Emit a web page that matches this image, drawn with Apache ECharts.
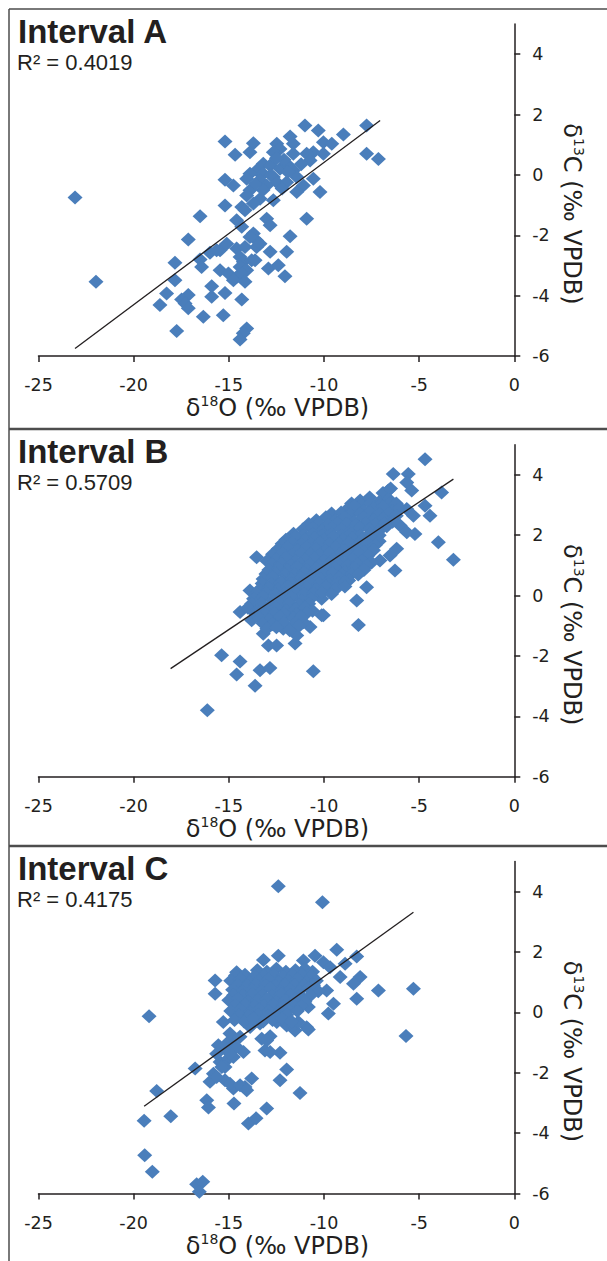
<!DOCTYPE html>
<html>
<head>
<meta charset="utf-8">
<script src="https://cdn.jsdelivr.net/npm/echarts@6/dist/echarts.min.js"></script>
<style>
html,body{margin:0;padding:0;background:#fff;}
#chart{width:607px;height:1261px;}
</style>
</head>
<body>
<div id="chart"></div>
<script>
// ---------- data ----------
const panelTitles = ['Interval A', 'Interval B', 'Interval C'];
const r2Labels = ['R\u00b2 = 0.4019', 'R\u00b2 = 0.5709', 'R\u00b2 = 0.4175'];
const xTicks = [-25, -20, -15, -10, -5, 0];
const yTicks = [-6, -4, -2, 0, 2, 4];
const xTitle = '{n|\u03b4}{s|18}{n|O (\u2030 VPDB)}';
const yTitle = '{n|\u03b4}{s|13}{n|C (\u2030 VPDB)}';

const intervalA = [
[-11.00,1.64],[-10.30,1.47],[-8.98,1.34],[-7.76,1.64],[-15.20,1.11],[-13.71,1.05],[-11.78,1.27],[-11.61,1.03],
[-12.48,1.03],[-12.31,0.86],[-10.03,1.08],[-9.59,1.03],[-10.56,0.75],[-10.91,0.70],[-13.89,0.75],[-14.67,0.67],
[-12.66,0.75],[-11.61,0.70],[-10.03,0.70],[-7.76,0.70],[-7.14,0.53],[-10.73,0.48],[-13.19,0.37],[-12.83,0.31],
[-13.54,0.15],[-13.19,0.04],[-12.31,0.20],[-11.96,0.37],[-11.61,0.15],[-13.89,0.04],[-14.06,-0.13],[-15.20,-0.16],
[-14.76,-0.35],[-13.36,-0.18],[-12.66,-0.07],[-12.48,-0.24],[-13.01,-0.35],[-11.96,-0.24],[-11.43,-0.07],[-11.08,-0.35],
[-11.43,-0.57],[-10.56,-0.13],[-10.21,-0.57],[-13.89,-0.51],[-14.06,-0.68],[-13.36,-0.79],[-12.66,-0.84],[-13.71,-0.95],
[-14.32,-1.06],[-14.15,-1.17],[-15.20,-1.01],[-23.08,-0.75],[-16.51,-1.37],[-14.59,-1.50],[-14.32,-1.72],[-13.01,-1.45],
[-12.83,-1.67],[-10.91,-1.45],[-17.13,-2.14],[-13.71,-1.94],[-13.54,-2.17],[-13.89,-2.06],[-11.78,-2.03],[-15.46,-2.50],
[-15.11,-2.28],[-14.59,-2.44],[-14.15,-2.39],[-13.54,-2.39],[-13.36,-2.28],[-14.41,-2.72],[-15.99,-2.58],[-15.64,-2.50],
[-12.83,-2.55],[-11.96,-2.55],[-16.51,-2.80],[-17.83,-2.91],[-16.43,-3.05],[-14.24,-2.88],[-13.80,-2.83],[-13.62,-2.83],
[-14.41,-3.05],[-14.06,-3.16],[-15.46,-3.16],[-15.02,-3.27],[-14.59,-3.38],[-14.32,-3.27],[-12.92,-3.10],[-12.40,-2.99],
[-12.05,-3.36],[-21.98,-3.54],[-17.83,-3.49],[-14.76,-3.49],[-14.15,-3.54],[-15.90,-3.69],[-18.27,-3.93],[-17.13,-3.98],
[-15.90,-4.04],[-15.20,-3.91],[-17.48,-4.13],[-17.30,-4.26],[-14.32,-4.13],[-18.62,-4.31],[-17.13,-4.42],[-16.34,-4.70],
[-15.29,-4.65],[-17.74,-5.17],[-14.06,-5.09],[-14.24,-5.25],[-14.41,-5.45],
[-12.10,0.50],[-11.90,0.10],[-12.80,0.00],[-13.20,-0.50],[-12.20,-0.45],[-11.20,0.35],[-12.50,0.55],[-13.60,-0.30]
];
const intervalB = [
[-4.69,4.52],[-6.36,4.03],[-5.57,4.03],[-5.65,3.75],[-5.39,3.48],[-6.62,3.48],[-3.82,3.42],[-4.69,2.98],[-4.43,2.65],
[-5.65,2.87],[-5.30,2.65],[-6.00,2.32],[-5.22,2.04],[-5.65,2.10],[-3.99,1.77],[-3.20,1.19],[-6.18,1.55],[-6.53,1.33],
[-6.27,0.83],[-7.06,1.16],[-7.76,0.28],[-8.28,-0.16],[-10.03,-0.65],[-8.19,-0.97],[-13.54,1.27],[-13.89,0.17],
[-14.41,-0.54],[-13.80,-0.82],[-13.19,-1.26],[-12.92,-1.65],[-12.49,-1.65],[-11.52,-1.59],[-11.43,-1.32],[-10.73,-1.04],
[-11.08,-0.88],[-10.12,-0.65],[-10.12,-0.10],[-15.38,-1.98],[-14.41,-2.18],[-14.59,-2.61],[-13.36,-2.47],[-12.84,-2.40],
[-13.62,-2.99],[-10.56,-2.51],[-16.13,-3.80],[-12.14,-1.10],[-11.96,-0.66],[-12.66,-0.82],
[-6.9,3.4],[-6.5,3.55],
[-8.1,3.15],[-7.6,3.25],[-7.1,3.1],[-6.6,3.2],
[-8.55,3.05],[-8.05,3.0],[-7.55,3.05],[-7.05,3.0],[-6.55,3.05],[-6.2,3.05],
[-8.8,2.85],[-8.4,2.95],[-7.9,2.8],[-7.4,2.9],[-6.9,2.95],[-6.4,2.8],[-6.0,2.9],
[-9.6,2.72],[-9.1,2.75],[-8.6,2.7],[-8.1,2.72],[-7.6,2.75],[-7.1,2.7],[-6.6,2.72],[-6.2,2.65],
[-10.4,2.5],[-9.9,2.6],[-9.4,2.5],[-8.9,2.6],[-8.4,2.45],[-7.9,2.6],[-7.4,2.5],[-6.9,2.55],[-6.4,2.45],
[-10.8,2.37],[-10.3,2.4],[-9.8,2.35],[-9.3,2.4],[-8.8,2.37],[-8.3,2.35],[-7.8,2.4],[-7.3,2.37],[-6.8,2.4],
[-11.1,2.2],[-10.6,2.25],[-10.1,2.15],[-9.6,2.25],[-9.1,2.2],[-8.6,2.15],[-8.1,2.25],[-7.6,2.2],[-7.1,2.15],[-6.7,2.3],
[-11.6,2.05],[-11.1,2.0],[-10.6,2.05],[-10.1,2.0],[-9.6,2.05],[-9.1,2.0],[-8.6,2.05],[-8.1,2.0],[-7.6,2.05],[-7.1,2.0],
[-12.0,1.85],[-11.5,1.95],[-11.0,1.85],[-10.5,1.9],[-10.0,1.85],[-9.5,1.95],[-9.0,1.85],[-8.5,1.9],[-8.0,1.85],[-7.5,1.9],[-7.1,1.8],
[-12.2,1.72],[-11.7,1.75],[-11.2,1.7],[-10.7,1.72],[-10.2,1.75],[-9.7,1.7],[-9.2,1.72],[-8.7,1.75],[-8.2,1.7],[-7.7,1.72],[-7.3,1.68],
[-12.4,1.55],[-11.9,1.6],[-11.4,1.5],[-10.9,1.6],[-10.4,1.55],[-9.9,1.5],[-9.4,1.6],[-8.9,1.5],[-8.4,1.55],[-7.9,1.45],[-7.4,1.5],
[-12.7,1.37],[-12.2,1.4],[-11.7,1.35],[-11.2,1.4],[-10.7,1.37],[-10.2,1.35],[-9.7,1.4],[-9.2,1.37],[-8.7,1.35],[-8.2,1.4],[-7.7,1.32],
[-13.0,1.15],[-12.5,1.2],[-12.0,1.25],[-11.5,1.15],[-11.0,1.2],[-10.5,1.25],[-10.0,1.15],[-9.5,1.2],[-9.0,1.1],[-8.5,1.2],[-8.0,1.15],[-7.5,1.1],
[-12.75,1.03],[-12.25,1.05],[-11.75,1.0],[-11.25,1.05],[-10.75,1.03],[-10.25,1.0],[-9.75,1.05],[-9.25,1.03],[-8.75,1.0],[-8.25,1.05],[-7.75,1.0],
[-12.9,0.85],[-12.4,0.9],[-11.9,0.85],[-11.4,0.95],[-10.9,0.85],[-10.4,0.9],[-9.9,0.85],[-9.4,0.9],[-8.9,0.8],[-8.4,0.9],[-7.9,0.85],
[-13.05,0.72],[-12.55,0.75],[-12.05,0.7],[-11.55,0.72],[-11.05,0.75],[-10.55,0.7],[-10.05,0.72],[-9.55,0.75],[-9.05,0.7],[-8.55,0.72],[-8.2,0.7],
[-13.2,0.55],[-12.7,0.6],[-12.2,0.5],[-11.7,0.55],[-11.2,0.6],[-10.7,0.5],[-10.2,0.55],[-9.7,0.5],[-9.2,0.6],[-8.7,0.5],
[-13.25,0.4],[-12.75,0.38],[-12.25,0.42],[-11.75,0.4],[-11.25,0.38],[-10.75,0.42],[-10.25,0.4],[-9.75,0.38],[-9.25,0.42],[-8.9,0.45],
[-13.4,0.2],[-12.9,0.25],[-12.4,0.2],[-11.9,0.3],[-11.4,0.2],[-10.9,0.25],[-10.4,0.2],[-9.9,0.3],[-9.4,0.2],[-8.9,0.3],
[-13.55,0.07],[-13.05,0.1],[-12.55,0.05],[-12.05,0.08],[-11.55,0.1],[-11.05,0.05],[-10.55,0.07],[-10.1,0.1],[-9.6,0.05],
[-13.7,-0.1],[-13.2,-0.05],[-12.7,-0.15],[-12.2,-0.1],[-11.7,-0.05],[-11.2,-0.15],[-10.7,-0.1],
[-13.8,-0.27],[-13.3,-0.25],[-12.8,-0.3],[-12.3,-0.27],[-11.8,-0.25],[-11.3,-0.3],[-10.8,-0.27],
[-14.0,-0.4],[-13.5,-0.5],[-13.0,-0.45],[-12.5,-0.4],[-12.0,-0.5],[-11.5,-0.45],[-11.0,-0.4],[-10.6,-0.5],
[-13.6,-0.6],[-13.1,-0.62],[-12.6,-0.58],[-12.1,-0.6],[-11.45,-0.62],[-10.9,-0.58],
[-13.4,-0.75],[-12.9,-0.8],[-12.3,-0.7],[-11.6,-0.75],[-11.2,-0.7],
[-13.2,-0.92],[-12.7,-0.95],[-12.1,-0.9],[-11.5,-0.92],
[-13.0,-1.1],[-12.5,-1.05],[-11.8,-1.15],[-11.3,-1.0]
];
const intervalC = [
[-12.40,4.18],[-10.08,3.65],[-9.33,2.08],[-10.47,1.88],[-12.40,1.88],[-13.18,1.74],[-11.08,1.72],[-8.28,1.85],
[-10.03,1.66],[-9.68,1.50],[-8.89,1.61],[-14.59,1.33],[-15.72,1.06],[-8.10,1.17],[-8.45,0.95],[-7.14,0.73],
[-5.30,0.78],[-15.72,0.62],[-8.28,0.45],[-9.50,0.29],[-9.77,-0.04],[-19.19,-0.13],[-15.29,-0.32],[-9.15,1.17],
[-9.86,0.73],[-10.82,0.18],[-10.91,-0.49],
[-11.96,-0.43],[-11.52,-0.60],[-10.82,-0.57],[-5.69,-0.78],[-15.55,-1.09],[-14.94,-0.93],[-14.23,-1.31],[-14.76,-1.48],
[-13.27,-0.87],[-12.83,-0.79],[-13.10,-1.26],[-12.31,-1.34],[-15.46,-1.64],[-15.02,-1.53],[-16.77,-1.86],[-15.81,-2.03],
[-15.99,-2.30],[-15.20,-2.25],[-14.76,-2.52],[-14.15,-2.47],[-13.80,-2.19],[-11.96,-1.89],[-12.31,-2.25],[-11.26,-2.67],
[-18.79,-2.60],[-16.16,-2.91],[-16.07,-3.15],[-14.73,-3.02],[-13.01,-3.18],[-18.05,-3.44],[-19.45,-3.59],[-13.97,-3.68],
[-13.57,-3.51],[-19.42,-4.73],[-19.02,-5.28],[-16.69,-5.69],[-16.37,-5.61],[-16.55,-5.94],[-15.20,-1.81],[-15.64,-1.37],
[-14.94,-0.70],[-14.41,-0.81],[-15.29,-1.15],[-14.59,-1.15],[-14.94,-1.37],[-15.37,-1.81],[-15.64,-2.14],[-14.94,-2.36],
[-14.41,-2.41],[-14.06,-2.58],[-13.88,-0.48],[-13.36,-0.37],[-13.01,-0.93],[-12.83,-1.31],[-12.48,-0.32],[-11.61,-0.43],[-11.35,-0.32],
[-13.5,1.4],[-13.0,1.35],[-12.5,1.45],[-12.0,1.35],[-11.5,1.4],[-11.0,1.45],[-10.6,1.35],
[-14.65,1.22],[-14.15,1.25],[-13.65,1.2],[-13.15,1.22],[-12.65,1.25],[-12.15,1.2],[-11.65,1.22],[-11.15,1.25],[-10.65,1.2],
[-14.9,1.05],[-14.4,1.1],[-13.9,1.0],[-13.4,1.05],[-12.9,1.1],[-12.4,1.0],[-11.9,1.05],[-11.4,1.1],[-10.9,1.0],[-10.4,1.05],
[-14.55,0.9],[-14.05,0.88],[-13.55,0.92],[-13.05,0.9],[-12.55,0.88],[-12.05,0.92],[-11.55,0.9],[-11.05,0.88],[-10.55,0.9],
[-14.8,0.75],[-14.3,0.7],[-13.8,0.75],[-13.3,0.7],[-12.8,0.8],[-12.3,0.7],[-11.8,0.75],[-11.3,0.7],[-10.8,0.8],[-10.3,0.7],
[-14.75,0.57],[-14.25,0.55],[-13.75,0.6],[-13.25,0.57],[-12.75,0.55],[-12.25,0.6],[-11.75,0.57],[-11.25,0.55],[-10.7,0.57],
[-15.0,0.4],[-14.5,0.45],[-14.0,0.35],[-13.5,0.4],[-13.0,0.45],[-12.5,0.35],[-12.0,0.4],[-11.5,0.45],[-11.0,0.35],
[-14.65,0.23],[-14.15,0.25],[-13.65,0.2],[-13.15,0.23],[-12.65,0.25],[-12.15,0.2],[-11.65,0.23],[-11.2,0.2],
[-14.9,0.05],[-14.4,0.1],[-13.9,0.0],[-13.4,0.1],[-12.9,0.05],[-12.4,0.0],[-11.9,0.1],[-11.4,0.05],
[-14.45,-0.1],[-13.95,-0.12],[-13.45,-0.08],[-12.95,-0.1],[-12.45,-0.12],[-11.95,-0.08],
[-14.7,-0.25],[-14.2,-0.3],[-13.7,-0.2],[-13.2,-0.3],[-12.7,-0.25],[-12.2,-0.2],[-11.7,-0.3]
];
const trendA = [[-23.08,-5.75],[-7.05,1.80]];
const trendB = [[-18.06,-2.42],[-3.20,3.86]];
const trendC = [[-19.45,-3.11],[-5.30,3.32]];

const panelData = [intervalA, intervalB, intervalC];
const panelTrend = [trendA, trendB, trendC];

// ---------- layout / style ----------
const INK = '#231f20';
const BLUE = '#4a7ebb';
const FRAME = '#4d4d4d';
const axisYs = [356, 776.7, 1193.5];
const plotH = 332;
const gridLeft = 38.5;
const gridRight = 92.7;
const tickFont = 'DejaVu Sans';

const titleRich = {
  n: { fontSize: 24, fontFamily: 'DejaVu Sans', fill: INK, lineHeight: 28 },
  s: { fontSize: 14, fontFamily: 'DejaVu Sans', fill: INK, lineHeight: 20, verticalAlign: 'top' }
};

const grids = [], xAxes = [], yAxes = [], series = [], graphics = [];
axisYs.forEach((ay, i) => {
  grids.push({ left: gridLeft, right: gridRight, top: ay - plotH, height: plotH, containLabel: false });
  xAxes.push({
    gridIndex: i, type: 'value', min: xTicks[0], max: xTicks[xTicks.length - 1], interval: 5,
    position: 'bottom',
    axisLine: { show: true, onZero: false, lineStyle: { color: INK, width: 1.5 } },
    axisTick: { show: true, length: 6, inside: false, lineStyle: { color: INK, width: 1.5 } },
    axisLabel: { margin: 20, color: INK, fontFamily: tickFont, fontSize: 17.5 },
    splitLine: { show: false }
  });
  yAxes.push({
    gridIndex: i, type: 'value', min: yTicks[0], max: 5, interval: 2,
    position: 'right',
    axisLine: { show: true, onZero: false, lineStyle: { color: INK, width: 1.5 } },
    axisTick: { show: true, length: 6, inside: false, customValues: yTicks, lineStyle: { color: INK, width: 1.5 } },
    axisLabel: { margin: 18, color: INK, fontFamily: tickFont, fontSize: 17.5, customValues: yTicks,
      formatter: v => (yTicks.indexOf(v) >= 0 ? String(v) : '') },
    splitLine: { show: false }
  });
  series.push({
    type: 'scatter', xAxisIndex: i, yAxisIndex: i, data: panelData[i],
    symbol: 'diamond', symbolSize: [15, 14],
    itemStyle: { color: BLUE, opacity: 1 }, silent: true, z: 2
  });
  series.push({
    type: 'line', xAxisIndex: i, yAxisIndex: i, data: panelTrend[i],
    symbol: 'none', lineStyle: { color: INK, width: 1.3 }, silent: true, z: 3
  });
  graphics.push({
    type: 'text', x: 18, y: ay - 325,
    style: { text: panelTitles[i], font: 'bold 33px "Liberation Sans"', fill: INK, align: 'left', verticalAlign: 'middle' }
  });
  graphics.push({
    type: 'text', x: 17, y: ay - 294,
    style: { text: r2Labels[i], font: '22px "Liberation Sans"', fill: INK, align: 'left', verticalAlign: 'middle' }
  });
  graphics.push({
    type: 'text', x: 277.5, y: ay + 52,
    style: { text: xTitle, rich: titleRich, fill: INK, align: 'center', verticalAlign: 'middle' }
  });
  graphics.push({
    type: 'text', x: 572, y: ay - 142, rotation: -Math.PI / 2,
    style: { text: yTitle, rich: titleRich, fill: INK, align: 'center', verticalAlign: 'middle' }
  });
});

// frame lines
graphics.push({ type: 'line', shape: { x1: 9, y1: 9, x2: 9, y2: 1261 }, style: { stroke: FRAME, lineWidth: 1.5 } });
graphics.push({ type: 'line', shape: { x1: 9, y1: 9, x2: 607, y2: 9 }, style: { stroke: FRAME, lineWidth: 1.5 } });
graphics.push({ type: 'line', shape: { x1: 9, y1: 429, x2: 607, y2: 429 }, style: { stroke: FRAME, lineWidth: 2.5 } });
graphics.push({ type: 'line', shape: { x1: 9, y1: 846, x2: 607, y2: 846 }, style: { stroke: FRAME, lineWidth: 2.5 } });

const chart = echarts.init(document.getElementById('chart'), null, { renderer: 'svg', width: 607, height: 1261 });
chart.setOption({
  animation: false,
  backgroundColor: '#ffffff',
  grid: grids,
  xAxis: xAxes,
  yAxis: yAxes,
  series: series,
  graphic: { elements: graphics }
});
</script>
</body>
</html>
